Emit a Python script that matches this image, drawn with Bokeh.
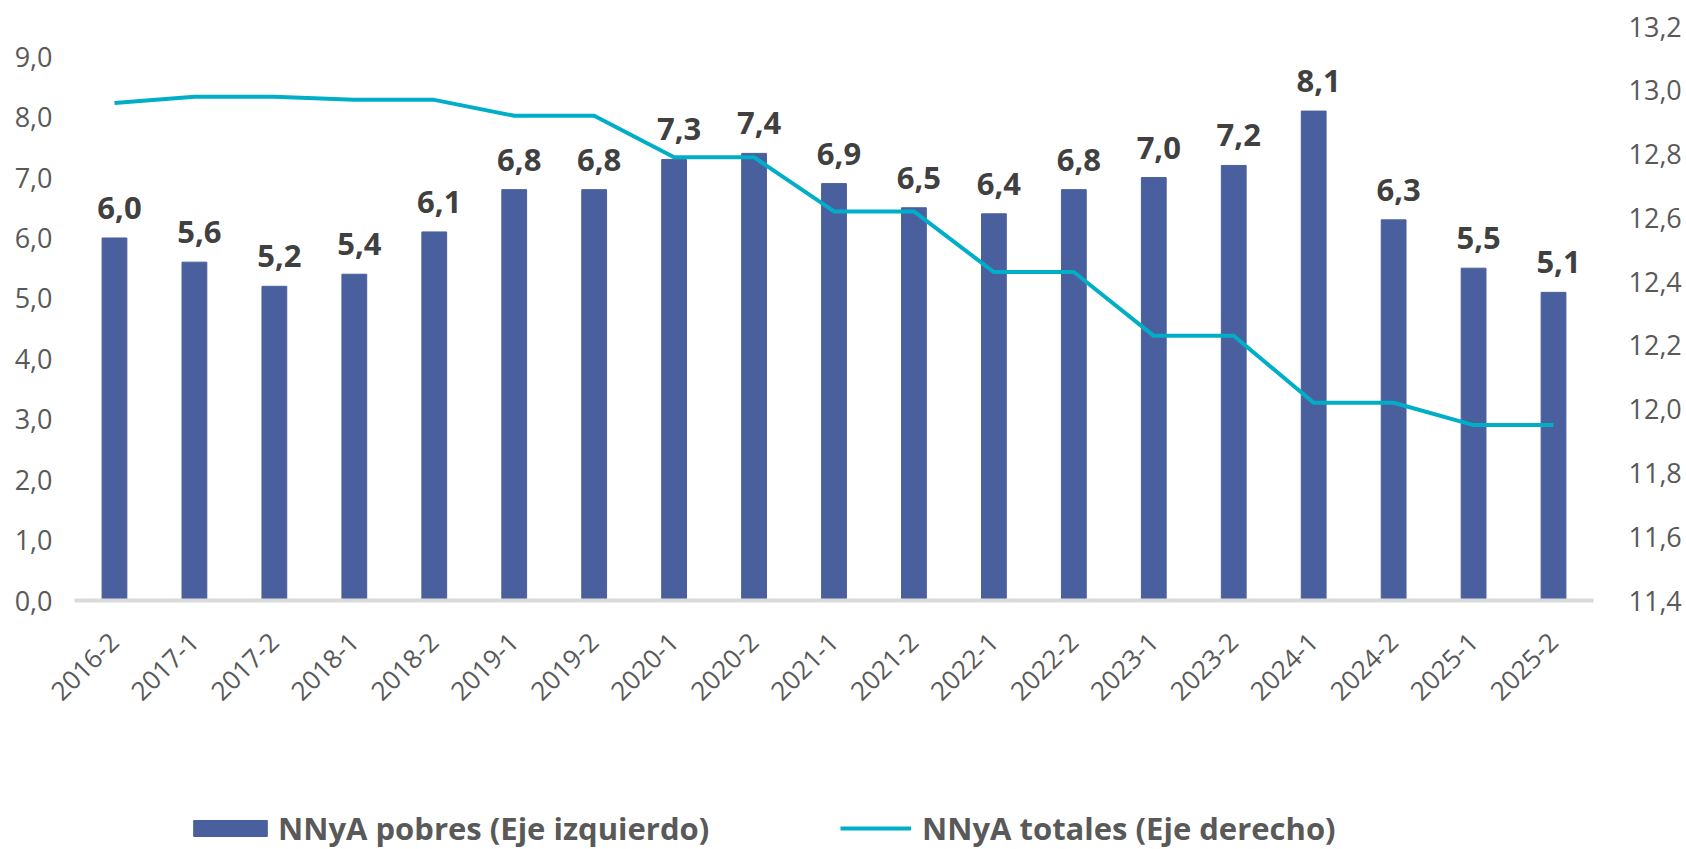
from bokeh.plotting import figure
from bokeh.layouts import column
from bokeh.models import (FactorRange, Range1d, LinearAxis, ColumnDataSource, Legend,
                          LegendItem, FixedTicker, CustomJSTickFormatter)
from bokeh.core.properties import value
from bokeh.embed import file_html
from bokeh.resources import INLINE
import math

# ---- data ----
periods = ["2016-2", "2017-1", "2017-2", "2018-1", "2018-2", "2019-1", "2019-2",
           "2020-1", "2020-2", "2021-1", "2021-2", "2022-1", "2022-2", "2023-1",
           "2023-2", "2024-1", "2024-2", "2025-1", "2025-2"]
pobres = [6.0, 5.6, 5.2, 5.4, 6.1, 6.8, 6.8, 7.3, 7.4, 6.9, 6.5, 6.4, 6.8, 7.0,
          7.2, 8.1, 6.3, 5.5, 5.1]
totales = [12.96, 12.98, 12.98, 12.97, 12.97, 12.92, 12.92, 12.79, 12.79, 12.62,
           12.62, 12.43, 12.43, 12.23, 12.23, 12.02, 12.02, 11.95, 11.95]
left_ticks = [0, 1, 2, 3, 4, 5, 6, 7, 8, 9]
right_ticks = [11.4, 11.6, 11.8, 12.0, 12.2, 12.4, 12.6, 12.8, 13.0, 13.2]
series_names = ["NNyA pobres (Eje izquierdo)", "NNyA totales (Eje derecho)"]

BAR_COLOR = "#4A5F9E"
LINE_COLOR = "#00AEC7"
FONT = "Open Sans"
TICK_COLOR = "#595959"
W = 1684

source = ColumnDataSource(dict(
    period=periods,
    pobres=pobres,
    totales=totales,
    label=[f"{v:.1f}".replace(".", ",") for v in pobres],
))

p = figure(
    x_range=FactorRange(*periods, range_padding=0),
    y_range=Range1d(0, 9.5),
    width=W, height=800,
    output_backend="svg", toolbar_location=None,
    min_border_left=74, min_border_right=86, min_border_top=26, min_border_bottom=200,
)
p.extra_y_ranges = {"right": Range1d(11.4, 13.2)}

bars = p.vbar(x="period", top="pobres", width=0.31, source=source,
              fill_color=BAR_COLOR, line_color=BAR_COLOR)
line = p.line(x="period", y="totales", source=source, y_range_name="right",
              line_color=LINE_COLOR, line_width=4)
p.text(x="period", y="pobres", text="label", source=source,
       text_align="center", text_baseline="alphabetic", x_offset=5, y_offset=-30,
       text_font=value(FONT), text_font_style="bold", text_font_size="31px",
       text_color="#404040")

fmt = CustomJSTickFormatter(code="return tick.toFixed(1).replace('.', ',');")

# left axis
ya = p.yaxis[0]
ya.ticker = FixedTicker(ticks=left_ticks)
ya.formatter = fmt
ya.axis_line_color = None
ya.major_tick_line_color = None
ya.minor_tick_line_color = None
ya.major_label_standoff = 16
ya.major_label_text_font = FONT
ya.major_label_text_font_size = "27px"
ya.major_label_text_color = TICK_COLOR

# right axis
ra = LinearAxis(y_range_name="right", ticker=FixedTicker(ticks=right_ticks), formatter=fmt)
ra.axis_line_color = None
ra.major_tick_line_color = None
ra.minor_tick_line_color = None
ra.major_label_standoff = 29
ra.major_label_text_font = FONT
ra.major_label_text_font_size = "27px"
ra.major_label_text_color = TICK_COLOR
p.add_layout(ra, "right")

# x axis
xa = p.xaxis[0]
xa.axis_line_color = "#D9D9D9"
xa.axis_line_width = 4
xa.major_tick_line_color = None
xa.minor_tick_line_color = None
xa.major_label_orientation = math.pi / 4
xa.major_label_standoff = 31
xa.major_label_text_font = FONT
xa.major_label_text_font_size = "26px"
xa.major_label_text_color = TICK_COLOR

p.xgrid.grid_line_color = None
p.ygrid.grid_line_color = None
p.outline_line_color = None
p.background_fill_color = "white"
p.border_fill_color = "white"

# ---- legend strip ----
lg = figure(width=W, height=49, x_range=Range1d(0, W), y_range=Range1d(0, 49),
            x_axis_type=None, y_axis_type=None, output_backend="svg",
            toolbar_location=None, min_border=0)
lg.outline_line_color = None
lg.xgrid.grid_line_color = None
lg.ygrid.grid_line_color = None
# off-screen stand-ins, used only for the legend swatches
lg_bar = lg.vbar(x=[-500], top=[-400], bottom=[-450], width=1,
                 fill_color=BAR_COLOR, line_color=BAR_COLOR)
lg_line = lg.line(x=[-500, -490], y=[-400, -400], line_color=LINE_COLOR, line_width=4)

common = dict(orientation="horizontal", padding=0, margin=0, border_line_color=None,
              background_fill_alpha=0, label_text_font=FONT, label_text_font_size="31px",
              label_text_font_style="bold", label_text_color=TICK_COLOR)
leg1 = Legend(items=[LegendItem(label=series_names[0], renderers=[lg_bar])],
              location=(110, 0), glyph_width=92, glyph_height=20, label_standoff=2, **common)
leg2 = Legend(items=[LegendItem(label=series_names[1], renderers=[lg_line])],
              location=(766, 0), glyph_width=71, glyph_height=20, label_standoff=11, **common)
lg.add_layout(leg1)
lg.add_layout(leg2)

layout = column(p, lg, spacing=0)
open("out.html", "w").write(file_html(layout, INLINE))
